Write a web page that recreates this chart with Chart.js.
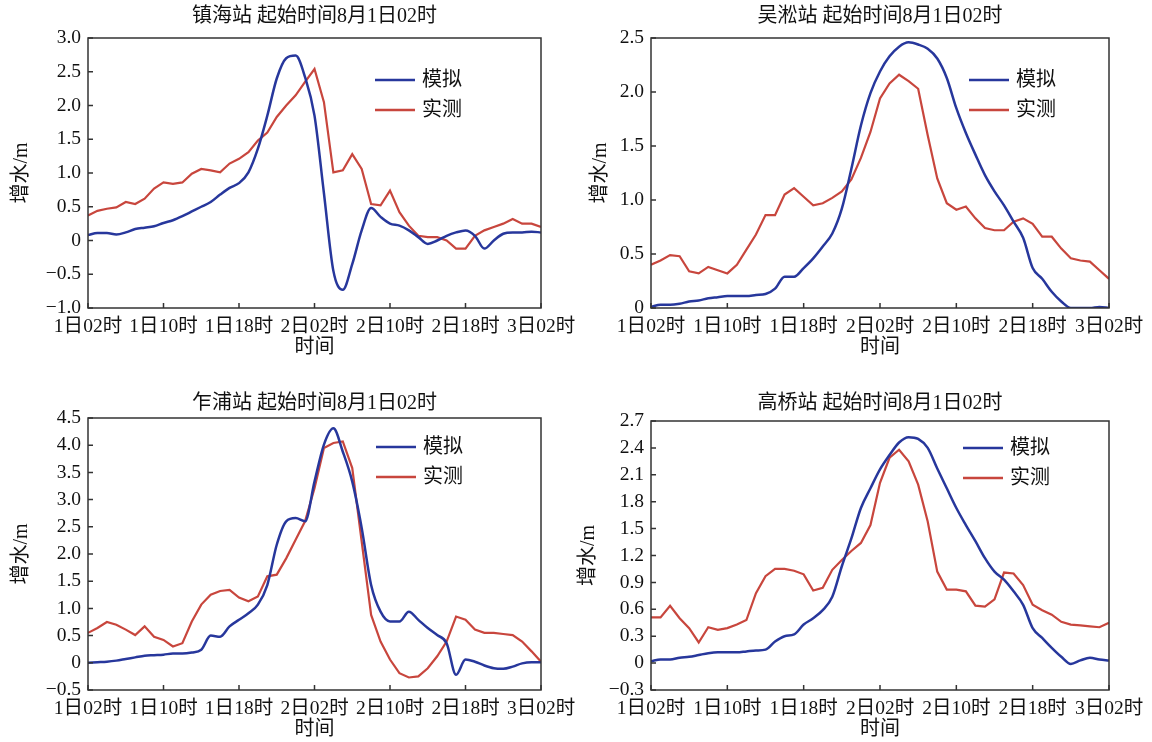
<!DOCTYPE html>
<html>
<head>
<meta charset="utf-8">
<script src="https://cdn.jsdelivr.net/npm/chart.js@4.4.0/dist/chart.umd.min.js"></script>
<style>
  body { margin: 0; background: #fff; }
  #wrap { position: relative; width: 1152px; height: 742px; }
  canvas { position: absolute; }
</style>
</head>
<body>
<div id="wrap">
  <canvas id="c1" width="576" height="371" style="left:0;top:0"></canvas>
  <canvas id="c2" width="576" height="371" style="left:576px;top:0"></canvas>
  <canvas id="c3" width="576" height="371" style="left:0;top:371px"></canvas>
  <canvas id="c4" width="576" height="371" style="left:576px;top:371px"></canvas>
</div>
<script>
// hours since 1日02时
const hours = [0, 1, 2, 3, 4, 5, 6, 7, 8, 9, 10, 11, 12, 13, 14, 15, 16, 17, 18, 19,
    20, 21, 22, 23, 24, 25, 26, 27, 28, 29, 30, 31, 32, 33, 34, 35, 36, 37, 38, 39,
    40, 41, 42, 43, 44, 45, 46, 47, 48];
const tickLabels = ['1日02时', '1日10时', '1日18时', '2日02时', '2日10时', '2日18时', '3日02时'];
const seriesNames = ['模拟', '实测'];

// 镇海站
const zhenhaiSim = [0.08, 0.11, 0.11, 0.09, 0.12, 0.17, 0.19, 0.21, 0.26, 0.30,
    0.36, 0.43, 0.50, 0.57, 0.68, 0.78, 0.85, 1.01, 1.36, 1.85,
    2.40, 2.70, 2.74, 2.42, 1.85, 0.70, -0.45, -0.73, -0.35, 0.15,
    0.48, 0.35, 0.25, 0.22, 0.15, 0.05, -0.05, 0.00, 0.07, 0.12,
    0.15, 0.07, -0.12, 0.00, 0.10, 0.12, 0.12, 0.13, 0.12];
const zhenhaiObs = [0.37, 0.44, 0.47, 0.49, 0.57, 0.54, 0.62, 0.77, 0.86, 0.84,
    0.86, 0.99, 1.06, 1.04, 1.01, 1.14, 1.21, 1.31, 1.48, 1.60,
    1.83, 2.00, 2.15, 2.35, 2.54, 2.05, 1.01, 1.04, 1.28, 1.06,
    0.54, 0.52, 0.74, 0.42, 0.22, 0.07, 0.05, 0.05, 0.00, -0.12,
    -0.12, 0.07, 0.15, 0.20, 0.25, 0.32, 0.25, 0.25, 0.20];

// 吴淞站
const wusongSim = [0.01, 0.03, 0.03, 0.04, 0.06, 0.07, 0.09, 0.10, 0.11, 0.11,
    0.11, 0.12, 0.13, 0.18, 0.29, 0.29, 0.37, 0.46, 0.57, 0.69,
    0.92, 1.29, 1.69, 1.99, 2.19, 2.33, 2.42, 2.46, 2.44, 2.40,
    2.31, 2.13, 1.85, 1.62, 1.42, 1.23, 1.08, 0.95, 0.80, 0.65,
    0.37, 0.27, 0.15, 0.06, 0.00, 0.00, 0.00, 0.01, 0.00];
const wusongObs = [0.40, 0.44, 0.49, 0.48, 0.34, 0.32, 0.38, 0.35, 0.32, 0.40,
    0.54, 0.68, 0.86, 0.86, 1.05, 1.11, 1.03, 0.95, 0.97, 1.02,
    1.08, 1.19, 1.39, 1.63, 1.94, 2.08, 2.16, 2.10, 2.03, 1.60,
    1.20, 0.97, 0.91, 0.94, 0.83, 0.74, 0.72, 0.72, 0.80, 0.83,
    0.78, 0.66, 0.66, 0.55, 0.46, 0.44, 0.43, 0.35, 0.27];

// 乍浦站
const zhapuSim = [0.00, 0.01, 0.02, 0.04, 0.07, 0.10, 0.13, 0.14, 0.15, 0.17,
    0.17, 0.19, 0.24, 0.50, 0.48, 0.67, 0.79, 0.91, 1.07, 1.43,
    2.17, 2.60, 2.66, 2.60, 3.33, 4.01, 4.31, 3.88, 3.33, 2.48,
    1.43, 0.94, 0.76, 0.76, 0.94, 0.79, 0.64, 0.51, 0.36, -0.22,
    0.06, 0.02, -0.05, -0.10, -0.11, -0.07, -0.01, 0.01, 0.01];
const zhapuObs = [0.55, 0.64, 0.75, 0.70, 0.61, 0.51, 0.67, 0.48, 0.42, 0.30,
    0.36, 0.76, 1.07, 1.25, 1.32, 1.34, 1.20, 1.13, 1.22, 1.59,
    1.62, 1.92, 2.26, 2.60, 3.21, 3.95, 4.04, 4.07, 3.58, 2.23,
    0.88, 0.39, 0.06, -0.19, -0.27, -0.25, -0.10, 0.12, 0.39, 0.85,
    0.79, 0.61, 0.55, 0.55, 0.53, 0.51, 0.39, 0.21, 0.02];

// 高桥站
const gaoqiaoSim = [0.02, 0.04, 0.04, 0.06, 0.07, 0.09, 0.11, 0.12, 0.12, 0.12,
    0.13, 0.14, 0.15, 0.24, 0.30, 0.32, 0.43, 0.50, 0.59, 0.74,
    1.08, 1.39, 1.73, 1.95, 2.16, 2.32, 2.46, 2.52, 2.50, 2.40,
    2.17, 1.95, 1.73, 1.54, 1.36, 1.17, 1.02, 0.93, 0.80, 0.65,
    0.39, 0.28, 0.17, 0.07, -0.01, 0.03, 0.06, 0.04, 0.03];
const gaoqiaoObs = [0.51, 0.51, 0.64, 0.50, 0.39, 0.23, 0.40, 0.37, 0.39, 0.43,
    0.48, 0.78, 0.97, 1.05, 1.05, 1.03, 0.99, 0.81, 0.84, 1.04,
    1.15, 1.25, 1.34, 1.54, 2.01, 2.29, 2.38, 2.25, 1.99, 1.58,
    1.02, 0.82, 0.82, 0.80, 0.64, 0.63, 0.71, 1.01, 1.00, 0.87,
    0.65, 0.59, 0.54, 0.46, 0.43, 0.42, 0.41, 0.40, 0.45];

const SIM_COLOR = '#27379c';
const OBS_COLOR = '#c8463d';
const FONT = '"Liberation Serif", "Noto Sans CJK SC", serif';

// box, inner ticks and the legend inside the plot
const framePlugin = {
    id: 'frame',
    afterDatasetsDraw(chart, args, opts) {
        const { ctx, chartArea: a, scales } = chart;
        ctx.save();
        ctx.strokeStyle = '#333';
        ctx.lineWidth = 1.5;
        ctx.strokeRect(a.left, a.top, a.width, a.height);
        ctx.beginPath();
        scales.x.ticks.forEach((t) => {
            const px = scales.x.getPixelForValue(t.value);
            ctx.moveTo(px, a.bottom);
            ctx.lineTo(px, a.bottom - 5);
        });
        scales.y.ticks.forEach((t) => {
            const py = scales.y.getPixelForValue(t.value);
            ctx.moveTo(a.left, py);
            ctx.lineTo(a.left + 5, py);
        });
        ctx.stroke();

        ctx.font = '20px ' + FONT;
        ctx.textBaseline = 'middle';
        ctx.fillStyle = '#111';
        chart.data.datasets.forEach((ds, i) => {
            const x = a.left + opts.x;
            const y = a.top + opts.y + i * 30;
            ctx.strokeStyle = ds.borderColor;
            ctx.lineWidth = 2.5;
            ctx.beginPath();
            ctx.moveTo(x, y);
            ctx.lineTo(x + 40, y);
            ctx.stroke();
            ctx.fillText(ds.label, x + 47, y + 1);
        });
        ctx.restore();
    },
};

function fmtY(v) {
    if (Math.abs(v) < 1e-9) return '0';
    const s = Math.abs(v).toFixed(1);
    return v < 0 ? '\u2212' + s : s;
}

function makeChart(id, p) {
    const ctx = document.getElementById(id).getContext('2d');
    return new Chart(ctx, {
        type: 'line',
        data: {
            datasets: [
                {
                    label: seriesNames[0],
                    data: hours.map((h, i) => ({ x: h, y: p.sim[i] })),
                    borderColor: SIM_COLOR,
                    borderWidth: 2.5,
                    pointRadius: 0,
                    cubicInterpolationMode: 'monotone',
                },
                {
                    label: seriesNames[1],
                    data: hours.map((h, i) => ({ x: h, y: p.obs[i] })),
                    borderColor: OBS_COLOR,
                    borderWidth: 2.2,
                    pointRadius: 0,
                    tension: 0,
                },
            ],
        },
        options: {
            responsive: false,
            animation: false,
            layout: { padding: { left: 0, top: 0, bottom: 0, right: p.rightPad } },
            plugins: {
                legend: { display: false },
                tooltip: { enabled: false },
                title: {
                    display: true,
                    text: p.title,
                    fullSize: false,
                    color: '#111',
                    font: { family: FONT, size: 20, weight: 'normal', lineHeight: 1.2 },
                    padding: p.titlePad,
                },
                frame: p.legend,
            },
            scales: {
                x: {
                    type: 'linear',
                    min: 0,
                    max: 48,
                    grid: { display: false, drawTicks: false },
                    border: { display: false },
                    ticks: {
                        stepSize: 8,
                        autoSkip: false,
                        maxRotation: 0,
                        minRotation: 0,
                        padding: 7,
                        color: '#111',
                        font: { family: FONT, size: 19.5 },
                        callback: (v) => tickLabels[v / 8] ?? '',
                    },
                    title: {
                        display: true,
                        text: '时间',
                        color: '#111',
                        font: { family: FONT, size: 20, lineHeight: 1.2 },
                        padding: { top: 0, bottom: p.xTitlePad },
                    },
                    afterFit: (s) => {
                        s.height = p.xHeight;
                        s.paddingLeft = 0;
                        s.paddingRight = 0;
                    },
                },
                y: {
                    min: p.yMin,
                    max: p.yMax,
                    grid: { display: false, drawTicks: false },
                    border: { display: false },
                    ticks: {
                        stepSize: p.yStep,
                        autoSkip: false,
                        padding: 7,
                        color: '#111',
                        font: { family: FONT, size: 19.5 },
                        callback: (v) => fmtY(v),
                    },
                    title: {
                        display: true,
                        text: '增水/m',
                        color: '#111',
                        font: { family: FONT, size: 20, lineHeight: 1.2 },
                        padding: { top: p.yTitlePad, bottom: 0 },
                    },
                    afterFit: (s) => {
                        s.width = p.yWidth;
                        s.paddingTop = 0;
                        s.paddingBottom = 0;
                    },
                },
            },
        },
        plugins: [framePlugin],
    });
}

makeChart('c1', {
    title: '镇海站 起始时间8月1日02时', sim: zhenhaiSim, obs: zhenhaiObs,
    yMin: -1, yMax: 3, yStep: 0.5,
    yWidth: 88, rightPad: 35, xHeight: 63,
    titlePad: { top: 5, bottom: 9 }, yTitlePad: 10, xTitlePad: 11,
    legend: { x: 287, y: 42 },
});
makeChart('c2', {
    title: '吴淞站 起始时间8月1日02时', sim: wusongSim, obs: wusongObs,
    yMin: 0, yMax: 2.5, yStep: 0.5,
    yWidth: 75, rightPad: 43, xHeight: 63,
    titlePad: { top: 5, bottom: 9 }, yTitlePad: 13, xTitlePad: 11,
    legend: { x: 318, y: 42 },
});
makeChart('c3', {
    title: '乍浦站 起始时间8月1日02时', sim: zhapuSim, obs: zhapuObs,
    yMin: -0.5, yMax: 4.5, yStep: 0.5,
    yWidth: 88, rightPad: 35, xHeight: 52,
    titlePad: { top: 21, bottom: 2 }, yTitlePad: 10, xTitlePad: 0,
    legend: { x: 288, y: 29 },
});
makeChart('c4', {
    title: '高桥站 起始时间8月1日02时', sim: gaoqiaoSim, obs: gaoqiaoObs,
    yMin: -0.3, yMax: 2.7, yStep: 0.3,
    yWidth: 75, rightPad: 43, xHeight: 52,
    titlePad: { top: 21, bottom: 5 }, yTitlePad: 1, xTitlePad: 0,
    legend: { x: 312, y: 27 },
});
</script>
</body>
</html>
